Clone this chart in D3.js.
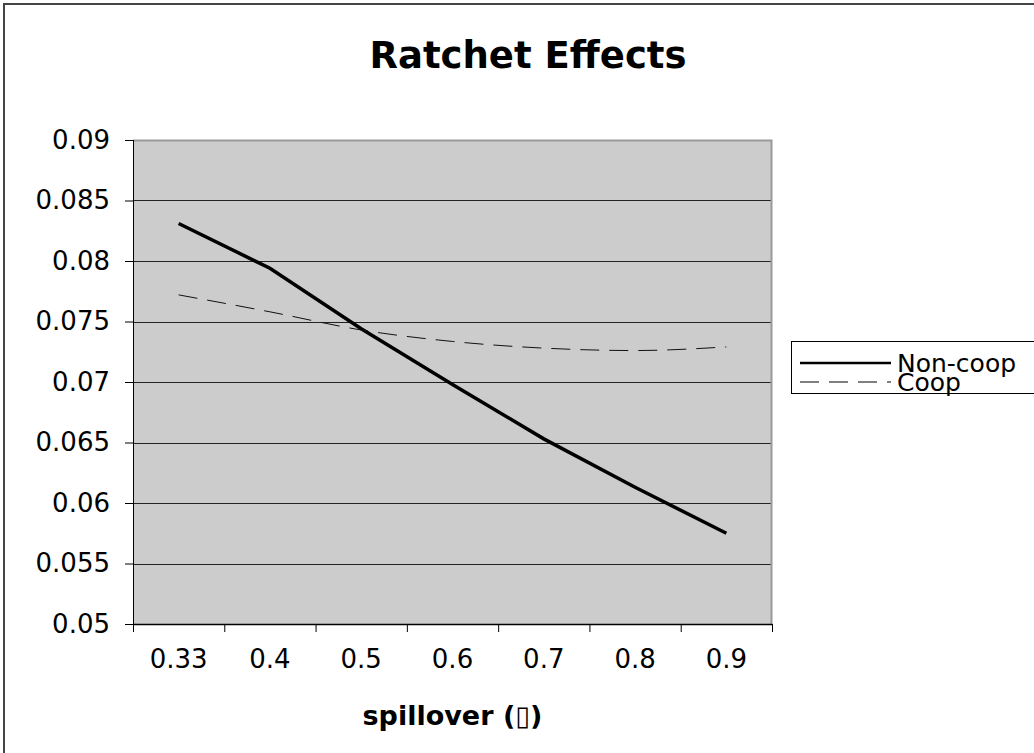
<!DOCTYPE html>
<html>
<head>
<meta charset="utf-8">
<script src="https://cdn.jsdelivr.net/npm/d3@7"></script>
<style>
  body { margin: 0; background: #fff; }
  text { font-family: "DejaVu Sans", Verdana, sans-serif; fill: #000; }
  .title { font-size: 37px; font-weight: bold; }
  .axis-label { font-size: 27px; font-weight: bold; }
  .tick text { font-size: 26px; }
  .legend text { font-size: 25px; }
</style>
</head>
<body>
<svg width="1034" height="753"></svg>
<script>
const categories = ['0.33', '0.4', '0.5', '0.6', '0.7', '0.8', '0.9'];
const nonCoop = [0.0831, 0.0794, 0.0744, 0.0698, 0.0653, 0.0613, 0.0575];
const coop = [0.0772, 0.0758, 0.0743, 0.07335, 0.0728, 0.0726, 0.0729];
const yTicks = [0.05, 0.055, 0.06, 0.065, 0.07, 0.075, 0.08, 0.085, 0.09];
const yTickLabels = ['0.05', '0.055', '0.06', '0.065', '0.07', '0.075', '0.08', '0.085', '0.09'];
const seriesNames = ['Non-coop', 'Coop'];

const svg = d3.select('svg');
const width = +svg.attr('width');
const height = +svg.attr('height');

const margin = { top: 140, right: 262, bottom: 129, left: 133 };
const innerWidth = width - margin.left - margin.right;
const innerHeight = height - margin.top - margin.bottom;

// outer chart frame (runs off the right and bottom edges)
svg.append('rect')
  .attr('x', 4).attr('y', 4)
  .attr('width', width + 20).attr('height', height + 20)
  .attr('fill', 'none')
  .attr('stroke', '#444')
  .attr('stroke-width', 2);

svg.append('text')
  .attr('class', 'title')
  .attr('x', 528)
  .attr('y', 68)
  .style('text-anchor', 'middle')
  .text('Ratchet Effects');

const g = svg.append('g')
  .attr('transform', `translate(${margin.left}, ${margin.top})`);

const xScale = d3.scaleBand()
  .domain(categories)
  .range([0, innerWidth]);

const yScale = d3.scaleLinear()
  .domain([0.05, 0.09])
  .range([innerHeight, 0]);

// plot area
g.append('rect')
  .attr('width', innerWidth)
  .attr('height', innerHeight)
  .attr('fill', '#cccccc');

// gridlines
g.append('g')
  .selectAll('line')
  .data(yTicks.slice(1, -1))
  .join('line')
  .attr('x1', 0)
  .attr('x2', innerWidth)
  .attr('y1', d => Math.round(yScale(d)) + 0.5)
  .attr('y2', d => Math.round(yScale(d)) + 0.5)
  .attr('stroke', '#222')
  .attr('stroke-width', 1.2);

// top and right border of plot area
g.append('path')
  .attr('d', `M0,0.5H${innerWidth - 0.5}V${innerHeight}`)
  .attr('fill', 'none')
  .attr('stroke', '#999')
  .attr('stroke-width', 2);

const yAxis = d3.axisLeft(yScale)
  .tickValues(yTicks)
  .tickFormat((d, i) => yTickLabels[i])
  .tickSize(8)
  .tickPadding(15);

const yAxisGroup = g.append('g').call(yAxis);
yAxisGroup.selectAll('.domain').attr('d', `M0.5,0V${innerHeight}`).attr('stroke', '#000');
yAxisGroup.selectAll('.tick line').attr('stroke', '#000');
yAxisGroup.selectAll('.tick text').attr('font-family', null).attr('font-size', null);

// x axis: ticks between categories, labels at centers
const xEdge = d3.scaleLinear().domain([0, categories.length]).range([0, innerWidth]);
const xTickAxis = d3.axisBottom(xEdge)
  .tickValues(d3.range(categories.length + 1))
  .tickFormat('')
  .tickSize(8)
  .tickSizeOuter(0);
const xTickGroup = g.append('g')
  .attr('transform', `translate(0, ${innerHeight})`)
  .call(xTickAxis);
xTickGroup.selectAll('.domain').attr('stroke', '#000').attr('stroke-width', 1.5);

const xAxis = d3.axisBottom(xScale)
  .tickSize(0)
  .tickPadding(26);
const xAxisGroup = g.append('g')
  .attr('transform', `translate(0, ${innerHeight})`)
  .call(xAxis);
xAxisGroup.selectAll('.domain').remove();
xAxisGroup.selectAll('.tick text').attr('font-family', null).attr('font-size', null);

xAxisGroup.append('text')
  .attr('class', 'axis-label')
  .attr('x', innerWidth / 2)
  .attr('y', 101)
  .style('text-anchor', 'middle')
  .text('spillover (\u25AF)');

const lineGen = d3.line()
  .x((d, i) => xScale(categories[i]) + xScale.bandwidth() / 2)
  .y(d => yScale(d));

g.append('path')
  .attr('d', lineGen(nonCoop))
  .attr('fill', 'none')
  .attr('stroke', '#000')
  .attr('stroke-width', 3.5);

g.append('path')
  .attr('d', lineGen.curve(d3.curveMonotoneX)(coop))
  .attr('fill', 'none')
  .attr('stroke', '#111')
  .attr('stroke-width', 1)
  .attr('stroke-dasharray', '19,10');

// legend
const legend = svg.append('g')
  .attr('class', 'legend')
  .attr('transform', 'translate(791, 341)');

legend.append('rect')
  .attr('x', 0.5).attr('y', 0.5)
  .attr('width', 260).attr('height', 52)
  .attr('fill', '#fff')
  .attr('stroke', '#000');

const legendRows = legend.selectAll('g.row')
  .data(seriesNames)
  .join('g')
  .attr('class', 'row')
  .attr('transform', (d, i) => `translate(0, ${22 + i * 19})`);

legendRows.append('line')
  .attr('x1', 9).attr('x2', 100)
  .attr('stroke', '#000')
  .attr('stroke-width', (d, i) => i === 0 ? 2.5 : 1)
  .attr('stroke-dasharray', (d, i) => i === 0 ? null : '19,10');

legendRows.append('text')
  .attr('x', 106)
  .attr('dy', '0.35em')
  .text(d => d);
</script>
</body>
</html>
